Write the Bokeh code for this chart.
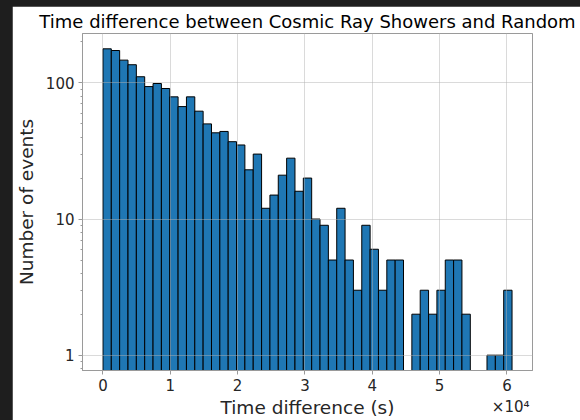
import numpy as np
from bokeh.plotting import figure
from bokeh.models import ColumnDataSource, FixedTicker, CustomJSTickFormatter, Range1d, Title
from bokeh.layouts import column
from bokeh.embed import file_html
from bokeh.resources import INLINE

# Histogram data (counts per bin)
counts = [178, 173, 147, 136, 111, 94, 99, 91, 79, 67,
          79, 62, 50, 43, 44, 37, 35, 23, 30, 12,
          15, 21, 28, 16, 20, 10, 9, 5, 12, 5,
          3, 9, 6, 3, 5, 5, 0, 2, 3, 2,
          3, 5, 5, 2, 0, 0, 1, 1, 3]
bin_start = 0.0
bin_width = 1240.0
x_ticks = [0, 10000, 20000, 30000, 40000, 50000, 60000]
x_tick_labels = ["0", "1", "2", "3", "4", "5", "6"]
y_ticks = [1, 10, 100]
y_tick_labels = ["1", "10", "100"]

title_text = "Time difference between Cosmic Ray Showers and Random"
x_label = "Time difference (s)"
y_label = "Number of events"
offset_text = "×10⁴"

counts = np.array(counts, dtype=float)
edges = bin_start + bin_width * np.arange(len(counts) + 1)
mask = counts > 0
src = ColumnDataSource(dict(
    left=edges[:-1][mask], right=edges[1:][mask],
    top=counts[mask], bottom=np.full(mask.sum(), 1e-3)))

span = edges[-1] - edges[0]
x_lo = edges[0] - 0.05 * span
x_hi = edges[-1] + 0.05 * span
L = np.log10(counts.max())
y_lo = 10 ** (-0.05 * L)
y_hi = 10 ** (1.05 * L)

FONT = "DejaVu Sans"
TXT = "#262626"
SPINE = "#9a9a9a"

p = figure(width=568, height=414, y_axis_type="log",
           x_range=Range1d(x_lo, x_hi), y_range=Range1d(y_lo, y_hi),
           output_backend="svg", toolbar_location=None, title=title_text,
           background_fill_color="white", border_fill_color="white")
p.margin = (6, 0, 0, 12)
p.min_border_left = 68
p.min_border_right = 48
p.min_border_top = 27
p.min_border_bottom = 50

p.quad(left="left", right="right", top="top", bottom="bottom", source=src,
       fill_color="#1f77b4", line_color="black", line_width=1)

p.title.text_font = FONT
p.title.text_font_size = "18px"
p.title.text_font_style = "normal"
p.title.text_color = "black"
p.title.align = "center"
p.title.standoff = 3

# x axis
p.xaxis.ticker = FixedTicker(ticks=x_ticks)
p.xaxis.formatter = CustomJSTickFormatter(
    args=dict(t=x_ticks, l=x_tick_labels),
    code="const i = t.indexOf(tick); return i >= 0 ? l[i] : '';")

# y axis
minor = []
for dec in [0.1, 1, 10, 100]:
    for m in range(2, 10):
        minor.append(dec * m)
p.yaxis.ticker = FixedTicker(ticks=y_ticks, minor_ticks=minor)
p.yaxis.formatter = CustomJSTickFormatter(
    args=dict(t=y_ticks, l=y_tick_labels),
    code="for (let i = 0; i < t.length; i++) { if (Math.abs(tick - t[i]) < 1e-6 * t[i]) return l[i]; } return '';")

for ax in (p.xaxis[0], p.yaxis[0]):
    ax.axis_line_color = SPINE
    ax.major_tick_line_color = SPINE
    ax.major_tick_out = 4
    ax.major_tick_in = 0
    ax.minor_tick_out = 2
    ax.minor_tick_in = 0
    ax.major_label_text_font = FONT
    ax.major_label_text_font_size = "15px"
    ax.major_label_text_color = TXT
    ax.major_label_standoff = 4
    ax.axis_label_text_font = FONT
    ax.axis_label_text_font_size = "18.5px"
    ax.axis_label_text_font_style = "normal"
    ax.axis_label_text_color = TXT
p.xaxis.minor_tick_line_color = None
p.yaxis.minor_tick_line_color = SPINE

p.xaxis.axis_label = x_label
p.yaxis.axis_label = y_label
p.xaxis.axis_label_standoff = 3
p.yaxis.axis_label_standoff = 6

p.outline_line_color = SPINE
p.outline_line_width = 1

for g in (p.xgrid[0], p.ygrid[0]):
    g.grid_line_color = "#b0b0b0"
    g.grid_line_alpha = 0.6
    g.grid_line_width = 0.8
    g.level = "overlay"

# scale-offset text below the x axis, right-aligned to the frame
p.add_layout(Title(text=offset_text, align="right", vertical_align="top",
                   standoff=-46, offset=3, text_font=FONT,
                   text_font_size="15px", text_font_style="normal",
                   text_color=TXT), "below")

root = column(p, styles={"background-color": "#1e1e1e"})

open("out.html", "w").write(file_html(root, INLINE))
